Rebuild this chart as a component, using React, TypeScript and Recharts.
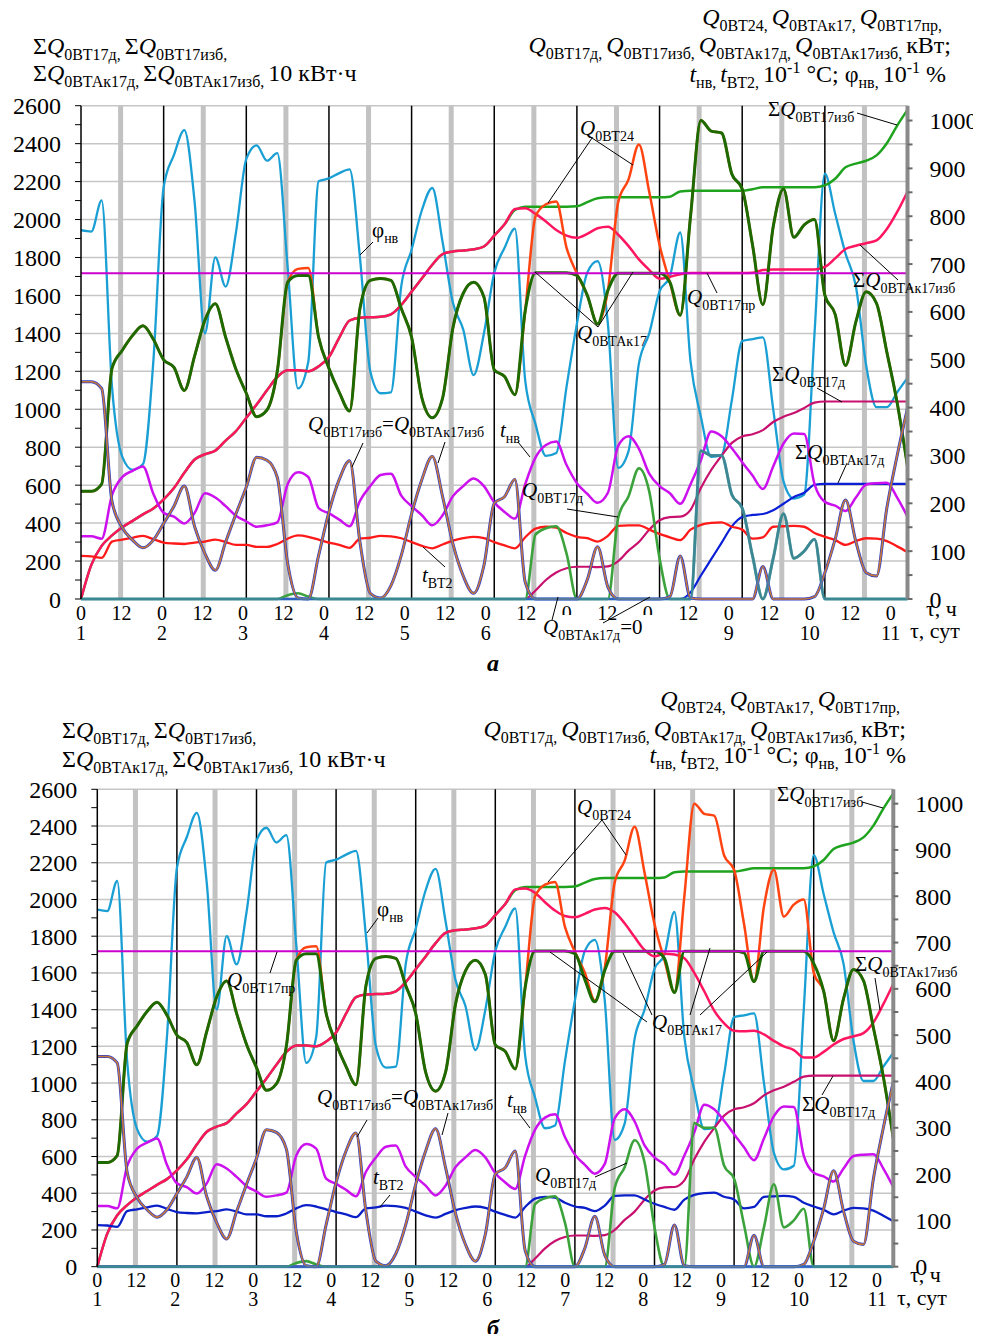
import React from "react";
import { LineChart, Line, XAxis, YAxis, ReferenceLine } from "recharts";

const FONT = '"Liberation Serif", "Times New Roman", serif';

// time from start, h (step 3 h)
const hours = [
  0, 3, 6, 9, 12, 15, 18, 21,
  24, 27, 30, 33, 36, 39, 42, 45,
  48, 51, 54, 57, 60, 63, 66, 69,
  72, 75, 78, 81, 84, 87, 90, 93,
  96, 99, 102, 105, 108, 111, 114, 117,
  120, 123, 126, 129, 132, 135, 138, 141,
  144, 147, 150, 153, 156, 159, 162, 165,
  168, 171, 174, 177, 180, 183, 186, 189,
  192, 195, 198, 201, 204, 207, 210, 213,
  216, 219, 222, 225, 228, 231, 234, 237,
  240,
];

const xTicks = [0, 12, 24, 36, 48, 60, 72, 84, 96, 108, 120, 132, 144, 156, 168, 180, 192, 204, 216, 228, 240];
const dayNames = ["1", "2", "3", "4", "5", "6", "7", "8", "9", "10", "11"];
const leftTicks = [0, 100, 200, 300, 400, 500, 600, 700, 800, 900, 1000, 1100, 1200, 1300, 1400, 1500, 1600, 1700, 1800, 1900, 2000, 2100, 2200, 2300, 2400, 2500, 2600];
const rightTicks = [0, 50, 100, 150, 200, 250, 300, 350, 400, 450, 500, 550, 600, 650, 700, 750, 800, 850, 900, 950, 1000];
const gridLevels = [200, 400, 600, 800, 1000, 1200, 1400, 1600, 1800, 2000, 2200, 2400, 2600];
const dayLines = [24, 48, 72, 96, 120, 144, 168, 192, 216];
const midLines = [11.5, 35.5, 59.5, 83.5, 107.5, 131.5, 155.5, 179.5, 203.5, 227.5];

// Q0ВТ17пр (right axis)
const qPr = 681;

// φнв (right axis)
const phi = [
  771, 768, 833, 444, 297, 270, 282, 496,
  861, 928, 980, 829, 555, 714, 653, 766,
  920, 948, 916, 932, 694, 440, 496, 873,
  879, 890, 898, 714, 476, 430, 432, 654,
  730, 813, 859, 746, 619, 563, 468, 555,
  682, 734, 774, 456, 365, 299, 305, 444,
  575, 682, 706, 575, 274, 309, 492, 555,
  643, 674, 766, 496, 381, 297, 301, 416,
  539, 543, 547, 397, 246, 210, 218, 555,
  889, 805, 722, 654, 488, 401, 401, 432,
  462,
];

// tнв
const tNv = [
  131, 131, 126, 217, 255, 268, 277, 220,
  180, 172, 158, 180, 221, 212, 194, 174,
  162, 151, 154, 160, 240, 265, 255, 190,
  179, 166, 152, 205, 236, 259, 262, 216,
  194, 175, 154, 175, 215, 236, 252, 236,
  202, 182, 168, 240, 296, 322, 329, 280,
  242, 220, 201, 222, 320, 340, 314, 262,
  236, 221, 199, 240, 290, 350, 340, 315,
  286, 258, 230, 277, 325, 346, 345, 240,
  203, 195, 184, 212, 239, 242, 243, 212,
  172,
];

// tВТ2
const tVt2 = [
  90, 89, 86, 120, 124, 128, 132, 125,
  118, 116, 115, 118, 120, 124, 119, 113,
  113, 109, 109, 115, 126, 133, 130, 124,
  118, 113, 107, 126, 128, 132, 131, 127,
  119, 111, 106, 114, 122, 127, 130, 127,
  119, 112, 106, 129, 147, 151, 149, 138,
  130, 127, 120, 132, 153, 154, 154, 145,
  136, 129, 123, 145, 155, 159, 160, 151,
  145, 126, 129, 151, 152, 153, 151, 138,
  130, 123, 113, 121, 127, 126, 121, 110,
  98,
];

// Q0ВТ17изб (= Q0ВТАк17изб)
const qIzb = [
  454, 454, 440, 204, 149, 123, 107, 123,
  158, 194, 236, 151, 95, 60, 119, 178,
  234, 296, 290, 254, 75, 2, 0, 91,
  182, 250, 289, 119, 12, 2, 28, 91,
  178, 250, 298, 214, 115, 48, 12, 70,
  200, 214, 250, 35, 0, 0, 0, 0,
  0, 40, 109, 25, 0, 0, 0, 0,
  0, 5, 90, 2, 0, 0, 0, 0,
  0, 0, 68, 0, 0, 0, 0, 5,
  55, 125, 207, 120, 55, 48, 190, 300,
  399,
];
const qAkIzb = qIzb;

// Q0ВТ17д
const qD = [
  0, 0, 0, 0, 0, 0, 0, 0,
  0, 0, 0, 0, 0, 0, 0, 0,
  0, 0, 0, 0, 8, 12, 5, 0,
  0, 0, 0, 0, 0, 0, 0, 0,
  0, 0, 0, 0, 0, 0, 0, 0,
  0, 0, 0, 0, 135, 148, 152, 95,
  0, 0, 0, 0, 170, 215, 273, 225,
  85, 0, 0, 0, 310, 300, 300, 218,
  190, 90, 0, 85, 178, 85, 100, 125,
  0, 0, 0, 0, 0, 0, 0, 0,
  0,
];

// Q0ВТАк17д
const qAkDA = [
  0, 0, 0, 0, 0, 0, 0, 0,
  0, 0, 0, 0, 0, 0, 0, 0,
  0, 0, 0, 0, 0, 0, 0, 0,
  0, 0, 0, 0, 0, 0, 0, 0,
  0, 0, 0, 0, 0, 0, 0, 0,
  0, 0, 0, 0, 0, 0, 0, 0,
  0, 0, 0, 0, 0, 0, 0, 0,
  0, 0, 0, 0, 310, 300, 300, 218,
  190, 90, 0, 85, 178, 85, 100, 125,
  0, 0, 0, 0, 0, 0, 0, 0,
  0,
];
const qAkDB = [
  0, 0, 0, 0, 0, 0, 0, 0,
  0, 0, 0, 0, 0, 0, 0, 0,
  0, 0, 0, 0, 0, 0, 0, 0,
  0, 0, 0, 0, 0, 0, 0, 0,
  0, 0, 0, 0, 0, 0, 0, 0,
  0, 0, 0, 0, 0, 0, 0, 0,
  0, 0, 0, 0, 0, 0, 0, 0,
  0, 0, 0, 0, 0, 0, 0, 0,
  0, 0, 0, 0, 0, 0, 0, 0,
  0, 0, 0, 0, 0, 0, 0, 0,
  0,
];

// Q0ВТ24
const q24 = [
  225, 225, 240, 482, 520, 551, 571, 543,
  500, 484, 436, 508, 583, 617, 547, 480,
  430, 381, 395, 476, 662, 690, 692, 547,
  482, 432, 393, 607, 666, 670, 666, 607,
  547, 420, 379, 420, 567, 639, 662, 631,
  479, 465, 427, 603, 800, 825, 831, 734,
  680, 635, 575, 645, 830, 877, 950, 851,
  740, 662, 593, 800, 1000, 978, 974, 888,
  857, 740, 615, 778, 857, 756, 782, 793,
  635, 595, 488, 579, 642, 618, 516, 410,
  277,
];

// Q0ВТАк17
const qAk17A = [
  225, 225, 240, 482, 520, 551, 571, 543,
  500, 484, 436, 508, 583, 617, 547, 480,
  430, 381, 395, 476, 662, 676, 676, 547,
  482, 432, 393, 607, 666, 670, 666, 607,
  547, 420, 379, 420, 567, 639, 662, 631,
  479, 465, 427, 603, 682, 682, 682, 682,
  676, 635, 575, 645, 681, 681, 681, 681,
  681, 662, 593, 800, 1000, 978, 974, 888,
  857, 740, 615, 778, 857, 756, 782, 793,
  635, 595, 488, 579, 642, 618, 516, 410,
  277,
];
const qAk17B = [
  225, 225, 240, 482, 520, 551, 571, 543,
  500, 484, 436, 508, 583, 617, 547, 480,
  430, 381, 395, 476, 662, 676, 676, 547,
  482, 432, 393, 607, 666, 670, 666, 607,
  547, 420, 379, 420, 567, 639, 662, 631,
  479, 465, 427, 603, 682, 682, 682, 682,
  676, 620, 572, 640, 681, 681, 681, 681,
  681, 666, 592, 681, 681, 681, 681, 681,
  681, 678, 616, 681, 681, 681, 681, 681,
  655, 595, 488, 579, 642, 618, 516, 410,
  277,
];

// ΣQ0ВТ17изб, 10 kWh (left axis)
const sumIzb = [
  0, 180, 280, 335, 378, 412, 446, 477,
  525, 585, 665, 735, 763, 782, 835, 885,
  955, 1025, 1100, 1170, 1205, 1205, 1200, 1226,
  1275, 1378, 1468, 1483, 1485, 1487, 1500, 1550,
  1620, 1690, 1762, 1818, 1832, 1837, 1843, 1858,
  1915, 1975, 2050, 2068, 2068, 2068, 2068, 2068,
  2070, 2092, 2112, 2117, 2117, 2117, 2117, 2117,
  2117, 2120, 2148, 2152, 2152, 2152, 2152, 2152,
  2152, 2160, 2170, 2170, 2170, 2170, 2170, 2170,
  2180, 2215, 2275, 2295, 2310, 2338, 2402, 2495,
  2578,
];

// ΣQ0ВТАк17изб
const sumAkIzbA = [
  0, 180, 280, 335, 378, 412, 446, 477,
  525, 585, 665, 735, 763, 782, 835, 885,
  955, 1025, 1100, 1170, 1205, 1205, 1200, 1226,
  1275, 1378, 1468, 1483, 1485, 1487, 1500, 1550,
  1620, 1690, 1762, 1818, 1832, 1837, 1843, 1858,
  1915, 1975, 2055, 2060, 2030, 1990, 1945, 1915,
  1904, 1924, 1954, 1962, 1920, 1860, 1790, 1735,
  1688, 1698, 1712, 1718, 1718, 1718, 1718, 1718,
  1718, 1720, 1734, 1737, 1737, 1737, 1737, 1737,
  1750, 1795, 1845, 1862, 1875, 1890, 1950, 2040,
  2147,
];
const sumAkIzbB = [
  0, 180, 280, 335, 378, 412, 446, 477,
  525, 585, 665, 735, 763, 782, 835, 885,
  955, 1025, 1100, 1170, 1205, 1205, 1200, 1226,
  1275, 1378, 1468, 1483, 1485, 1487, 1500, 1550,
  1620, 1690, 1762, 1818, 1832, 1837, 1843, 1858,
  1915, 1975, 2055, 2060, 2036, 1985, 1940, 1910,
  1903, 1922, 1945, 1954, 1930, 1870, 1795, 1725,
  1690, 1705, 1700, 1680, 1600, 1500, 1395, 1325,
  1285, 1282, 1285, 1265, 1230, 1200, 1180, 1140,
  1140, 1170, 1210, 1240, 1255, 1272, 1330, 1430,
  1540,
];

// ΣQ0ВТ17д
const sumD = [
  0, 0, 0, 0, 0, 0, 0, 0,
  0, 0, 0, 0, 0, 0, 0, 0,
  0, 0, 0, 0, 0, 0, 0, 0,
  0, 0, 0, 0, 0, 0, 0, 0,
  0, 0, 0, 0, 0, 0, 0, 0,
  0, 0, 0, 0, 45, 100, 140, 162,
  170, 170, 168, 172, 200, 255, 300, 365,
  415, 432, 434, 470, 585, 680, 755, 823,
  857, 868, 890, 933, 961, 980, 1007, 1035,
  1041, 1041, 1041, 1041, 1041, 1041, 1041, 1041,
  1041,
];

// ΣQ0ВТАк17д
const sumAkDA = [
  0, 0, 0, 0, 0, 0, 0, 0,
  0, 0, 0, 0, 0, 0, 0, 0,
  0, 0, 0, 0, 0, 0, 0, 0,
  0, 0, 0, 0, 0, 0, 0, 0,
  0, 0, 0, 0, 0, 0, 0, 0,
  0, 0, 0, 0, 0, 0, 0, 0,
  0, 0, 0, 0, 0, 0, 0, 0,
  0, 0, 0, 35, 124, 210, 296, 383,
  432, 443, 448, 468, 502, 538, 560, 602,
  607, 607, 607, 607, 607, 607, 607, 607,
  607,
];
const sumAkDB = qAkDB;

const rowsA = hours.map((t, i) => ({
  t, phi: phi[i], tnv: tNv[i], tvt: tVt2[i], q24: q24[i], qak: qAk17A[i],
  sIzb: sumIzb[i], sAkIzb: sumAkIzbA[i], sD: sumD[i], sAkD: sumAkDA[i],
  qD: qD[i], qAkD: qAkDA[i], qIzb: qIzb[i], qAkIzb: qAkIzb[i],
}));
const rowsB = hours.map((t, i) => ({
  t, phi: phi[i], tnv: tNv[i], tvt: tVt2[i], q24: q24[i], qak: qAk17B[i],
  sIzb: sumIzb[i], sAkIzb: sumAkIzbB[i], sD: sumD[i], sAkD: sumAkDB[i],
  qD: qD[i], qAkD: qAkDB[i], qIzb: qIzb[i], qAkIzb: qAkIzb[i],
}));

type Seg = [string, string];
const Q = (s: string): Seg[] => [["Q", "i"], [s, "s"]];
const SQ = (s: string): Seg[] => [["Σ", "n"], ["Q", "i"], [s, "s"]];
const T = (s: string): Seg[] => [["t", "i"], [s, "s"]];

function Rich({ x, y, segs, size = 21, anchor = "start" }: { x: number; y: number; segs: Seg[]; size?: number; anchor?: string }) {
  let cur = 0;
  const small = Math.round(size * 0.68);
  return (
    <text x={x} y={y} fontSize={size} fontFamily={FONT} textAnchor={anchor as any} fill="#000">
      {segs.map(([s, k], i) => {
        const off = k === "s" ? size * 0.27 : k === "p" ? -size * 0.38 : 0;
        const dy = off - cur;
        cur = off;
        return (
          <tspan key={i} dy={dy} fontSize={k === "s" || k === "p" ? small : size} fontStyle={k === "i" ? "italic" : "normal"}>
            {s}
          </tspan>
        );
      })}
    </text>
  );
}

const eq: Seg[] = [...Q("0ВТ17изб"), ["=", "n"], ...Q("0ВТАк17изб")];

const notes = [
  // panel а
  { x: 372, y: 237, segs: [["φ", "n"], ["нв", "s"]] as Seg[] },
  { x: 580, y: 135, segs: Q("0ВТ24") },
  { x: 577, y: 340, segs: Q("0ВТАк17") },
  { x: 687, y: 304, segs: Q("0ВТ17пр") },
  { x: 768, y: 116, segs: SQ("0ВТ17изб") },
  { x: 853, y: 287, segs: SQ("0ВТАк17изб") },
  { x: 772, y: 381, segs: SQ("0ВТ17д") },
  { x: 795, y: 459, segs: SQ("0ВТАк17д") },
  { x: 522, y: 497, segs: Q("0ВТ17д") },
  { x: 500, y: 437, segs: T("нв") },
  { x: 308, y: 431, segs: eq },
  { x: 422, y: 582, segs: T("ВТ2") },
  { x: 543, y: 634, segs: [...Q("0ВТАк17д"), ["=0", "n"]] as Seg[] },
  // panel б
  { x: 377, y: 916, segs: [["φ", "n"], ["нв", "s"]] as Seg[] },
  { x: 227, y: 987, segs: Q("0ВТ17пр") },
  { x: 577, y: 814, segs: Q("0ВТ24") },
  { x: 652, y: 1029, segs: Q("0ВТАк17") },
  { x: 777, y: 801, segs: SQ("0ВТ17изб") },
  { x: 855, y: 971, segs: SQ("0ВТАк17изб") },
  { x: 802, y: 1111, segs: SQ("0ВТ17д") },
  { x: 535, y: 1182, segs: Q("0ВТ17д") },
  { x: 507, y: 1107, segs: T("нв") },
  { x: 317, y: 1104, segs: eq },
  { x: 373, y: 1184, segs: T("ВТ2") },
];

const leaders = [
  [373, 242, 360, 255], [592, 138, 548, 203], [592, 138, 633, 165],
  [598, 327, 535, 272], [598, 327, 633, 272], [717, 293, 707, 273],
  [857, 113, 897, 125], [898, 280, 860, 245], [817, 388, 842, 402],
  [847, 463, 838, 483], [567, 509, 618, 517], [518, 442, 530, 457],
  [363, 443, 352, 467], [445, 442, 438, 463], [445, 567, 423, 547],
  [552, 620, 558, 597], [603, 623, 650, 597],
  [378, 918, 367, 933], [270, 973, 277, 952], [602, 820, 548, 882],
  [602, 820, 626, 855], [647, 1022, 550, 952], [652, 1015, 623, 953],
  [690, 1015, 710, 948], [700, 1015, 767, 952], [862, 802, 883, 808],
  [875, 978, 880, 1010], [822, 1095, 833, 1076], [595, 1177, 627, 1163],
  [518, 1112, 530, 1128], [367, 1120, 357, 1137], [448, 1113, 442, 1135],
  [390, 1195, 380, 1207],
];

// white patches where the label hides the axis text (page px)
const masks = [
  [552, 615, 24, 30],
  [633, 615, 24, 30],
];

const titleLeft1: Seg[] = [["Σ", "n"], ["Q", "i"], ["0ВТ17д, ", "s"], ["Σ", "n"], ["Q", "i"], ["0ВТ17изб,", "s"]];
const titleLeft2: Seg[] = [["Σ", "n"], ["Q", "i"], ["0ВТАк17д, ", "s"], ["Σ", "n"], ["Q", "i"], ["0ВТАк17изб, ", "s"], ["10 кВт·ч", "n"]];
const titleRight1: Seg[] = [["Q", "i"], ["0ВТ24, ", "s"], ["Q", "i"], ["0ВТАк17, ", "s"], ["Q", "i"], ["0ВТ17пр,", "s"]];
const titleRight2: Seg[] = [["Q", "i"], ["0ВТ17д, ", "s"], ["Q", "i"], ["0ВТ17изб, ", "s"], ["Q", "i"], ["0ВТАк17д, ", "s"], ["Q", "i"], ["0ВТАк17изб, ", "s"], ["кВт;", "n"]];
const titleRight3: Seg[] = [["t", "i"], ["нв, ", "s"], ["t", "i"], ["ВТ2, ", "s"], ["10", "n"], ["-1", "p"], [" °С; φ", "n"], ["нв, ", "s"], ["10", "n"], ["-1", "p"], [" %", "n"]];

function HourTick(props: any) {
  const { x, y, payload, dh, dd } = props;
  const v = payload.value as number;
  const isDay = v % 24 === 0;
  return (
    <g>
      <text x={x} y={y + dh} textAnchor="middle" fontSize={20} fontFamily={FONT} fill="#000">
        {isDay ? "0" : "12"}
      </text>
      {isDay && (
        <text x={x} y={y + dd} textAnchor="middle" fontSize={20} fontFamily={FONT} fill="#000">
          {dayNames[v / 24]}
        </text>
      )}
    </g>
  );
}

function Panel({ data, margin, tvtColor, dh, dd }: { data: any[]; margin: any; tvtColor: string; dh: number; dd: number }) {
  const ln = (key: string, axis: string, color: string, w: number, extra: any = {}) => (
    <Line
      key={key}
      xAxisId="m"
      yAxisId={axis}
      dataKey={key}
      type="monotone"
      stroke={color}
      strokeWidth={w}
      dot={false}
      activeDot={false}
      isAnimationActive={false}
      {...extra}
    />
  );
  return (
    <LineChart width={973} height={640} data={data} margin={margin}>
      {gridLevels.map((v) => (
        <ReferenceLine key={"h" + v} xAxisId="m" yAxisId="L" y={v} stroke="#c6c6c6" strokeWidth={1.5} />
      ))}
      {midLines.map((v) => (
        <ReferenceLine key={"g" + v} xAxisId="m" yAxisId="L" x={v} stroke="#c2c2c2" strokeWidth={5} />
      ))}
      {dayLines.map((v) => (
        <ReferenceLine key={"d" + v} xAxisId="m" yAxisId="L" x={v} stroke="#000" strokeWidth={1.5} />
      ))}
      <XAxis xAxisId="m" dataKey="t" type="number" domain={[0, 240]} hide />
      <XAxis
        xAxisId="lab"
        dataKey="t"
        type="number"
        domain={[0, 245]}
        allowDataOverflow
        ticks={xTicks}
        interval={0}
        axisLine={false}
        tickLine={false}
        tickSize={0}
        tickMargin={0}
        height={40}
        tick={(p: any) => <HourTick {...p} dh={dh} dd={dd} />}
      />
      <YAxis
        yAxisId="L"
        domain={[0, 2600]}
        ticks={leftTicks}
        interval={0}
        width={60}
        tickSize={6}
        tickMargin={14}
        tickFormatter={(v: number) => (v % 200 === 0 ? String(v) : "")}
        tick={{ fontSize: 24, fontFamily: FONT, fill: "#000" }}
        axisLine={{ stroke: "#000", strokeWidth: 1.5 }}
        tickLine={{ stroke: "#000" }}
      />
      <YAxis
        yAxisId="R"
        orientation="right"
        domain={[0, 1031]}
        ticks={rightTicks}
        interval={0}
        width={60}
        tickSize={5}
        tickMargin={17}
        tickFormatter={(v: number) => (v % 100 === 0 ? String(v) : "")}
        tick={{ fontSize: 24, fontFamily: FONT, fill: "#000" }}
        axisLine={{ stroke: "#8a8a8a", strokeWidth: 4 }}
        tickLine={{ stroke: "#6a6a6a", strokeWidth: 2 }}
      />
      {ln("phi", "R", "#1a9fd4", 2.3)}
      {ln("sIzb", "L", "#1fa31f", 2.5)}
      {ln("sAkIzb", "L", "#ff1560", 2.5)}
      {ln("sD", "L", "#c8106e", 2.2)}
      {ln("sAkD", "L", "#0a1fd6", 2.2)}
      {ln("tnv", "R", "#cc11ee", 2.5)}
      {ln("tvt", "R", tvtColor, 2.3)}
      {ln("q24", "R", "#ff4411", 2.5)}
      {ln("qak", "R", "#1d6b00", 3)}
      <ReferenceLine xAxisId="m" yAxisId="R" y={qPr} stroke="#cc00cc" strokeWidth={2} />
      {ln("qD", "R", "#3ca33c", 2.6)}
      {ln("qIzb", "R", "#2f3fc8", 3)}
      {ln("qAkIzb", "R", "#c8793a", 1.6)}
      {ln("qAkD", "R", "#3b7db5", 3, { strokeOpacity: 0.72 })}
    </LineChart>
  );
}

export default function App() {
  return (
    <div style={{ position: "relative", width: 973, height: 1326, fontFamily: FONT }}>
      <div style={{ position: "absolute", left: 0, top: 0 }}>
        <Panel data={rowsA} margin={{ top: 97.7, right: 13.5, left: 13, bottom: 9 }} tvtColor="#ff1a1a" dh={21} dd={41} />
      </div>
      <div style={{ position: "absolute", left: 0, top: 672 }}>
        <Panel data={rowsB} margin={{ top: 109.3, right: 27.7, left: 29.3, bottom: 13.3 }} tvtColor="#0a1fc8" dh={20} dd={39} />
      </div>
      <svg width={981} height={1342} style={{ position: "absolute", left: -8, top: -8, pointerEvents: "none" }}>
        {masks.map(([x, y, w, h], i) => (
          <rect key={i} x={x} y={y} width={w} height={h} fill="#fff" />
        ))}
        <Rich x={33} y={54} segs={titleLeft1} size={24} />
        <Rich x={33} y={81} segs={titleLeft2} size={24} />
        <Rich x={942} y={25} segs={titleRight1} size={24} anchor="end" />
        <Rich x={951} y={53} segs={titleRight2} size={24} anchor="end" />
        <Rich x={946} y={82} segs={titleRight3} size={24} anchor="end" />
        <Rich x={62} y={738} segs={titleLeft1} size={24} />
        <Rich x={62} y={767} segs={titleLeft2} size={24} />
        <Rich x={900} y={707} segs={titleRight1} size={24} anchor="end" />
        <Rich x={906} y={737} segs={titleRight2} size={24} anchor="end" />
        <Rich x={906} y={763} segs={titleRight3} size={24} anchor="end" />
        {leaders.map(([x1, y1, x2, y2], i) => (
          <line key={i} x1={x1} y1={y1} x2={x2} y2={y2} stroke="#000" strokeWidth={1} />
        ))}
        {notes.map((n, i) => (
          <Rich key={i} x={n.x} y={n.y} segs={n.segs} size={21} />
        ))}
        <text x={926} y={616} fontSize={22} fontFamily={FONT}>τ, ч</text>
        <text x={910} y={638} fontSize={22} fontFamily={FONT}>τ, сут</text>
        <text x={910} y={1282} fontSize={22} fontFamily={FONT}>τ, ч</text>
        <text x={897} y={1305} fontSize={22} fontFamily={FONT}>τ, сут</text>
        <text x={493} y={671} fontSize={24} fontFamily={FONT} fontWeight="bold" fontStyle="italic" textAnchor="middle">а</text>
        <text x={493} y={1336} fontSize={24} fontFamily={FONT} fontWeight="bold" fontStyle="italic" textAnchor="middle">б</text>
      </svg>
    </div>
  );
}
